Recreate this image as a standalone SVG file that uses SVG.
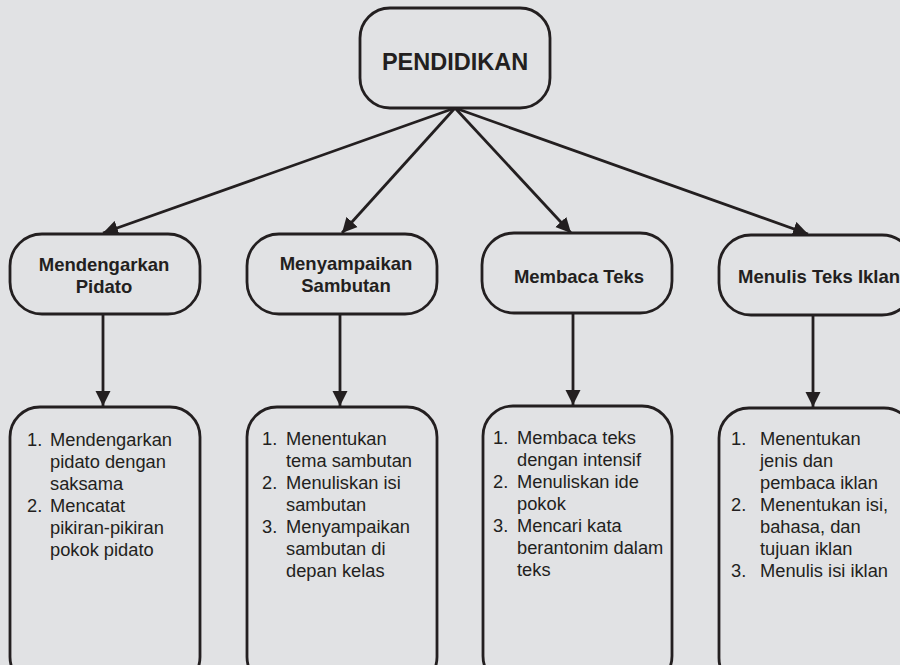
<svg xmlns="http://www.w3.org/2000/svg" width="900" height="665" viewBox="0 0 900 665">
<style>
.box{fill:#e1e2e4;stroke:#231f20;stroke-width:2.8}
.conn{stroke:#231f20;stroke-width:2.8;fill:none}
.t{font-family:"Liberation Sans",Arial,sans-serif;fill:#231f20}
.h{font-weight:bold;font-size:18.5px;text-anchor:middle}
.top{font-weight:bold;font-size:23.5px;text-anchor:middle}
.l{font-size:18.3px}
</style>
<defs>
<marker id="ah" markerUnits="userSpaceOnUse" markerWidth="16" markerHeight="16" refX="15" refY="8" orient="auto">
<path d="M0,0.5 L15,8 L0,15.5 Z" fill="#231f20"/>
</marker>
</defs>
<rect width="900" height="665" fill="#e1e2e4"/>
<g id="connectors">
<line class="conn" x1="455" y1="108" x2="103" y2="233" marker-end="url(#ah)"/>
<line class="conn" x1="455" y1="108" x2="342" y2="233" marker-end="url(#ah)"/>
<line class="conn" x1="455" y1="108" x2="571" y2="233" marker-end="url(#ah)"/>
<line class="conn" x1="455" y1="108" x2="808" y2="234" marker-end="url(#ah)"/>
<line class="conn" x1="103" y1="314" x2="103" y2="406" marker-end="url(#ah)"/>
<line class="conn" x1="340" y1="314" x2="340" y2="406" marker-end="url(#ah)"/>
<line class="conn" x1="573" y1="313" x2="573" y2="405" marker-end="url(#ah)"/>
<line class="conn" x1="813" y1="315" x2="813" y2="407" marker-end="url(#ah)"/>
</g>
<g id="pendidikan">
<rect class="box" x="360" y="8" width="190" height="100" rx="30"/>
<text class="t top" x="455" y="70">PENDIDIKAN</text>
</g>
<g id="mendengarkan">
<rect class="box" x="10" y="234" width="190" height="80" rx="32"/>
<text class="t h" x="104" y="271">Mendengarkan</text>
<text class="t h" x="104" y="293">Pidato</text>
</g>
<g id="menyampaikan">
<rect class="box" x="247" y="234" width="190" height="80" rx="32"/>
<text class="t h" x="346" y="270">Menyampaikan</text>
<text class="t h" x="346" y="292">Sambutan</text>
</g>
<g id="membaca">
<rect class="box" x="482" y="233" width="190" height="80" rx="32"/>
<text class="t h" x="579" y="283">Membaca Teks</text>
</g>
<g id="menulis">
<rect class="box" x="719" y="235" width="195" height="80" rx="32"/>
<text class="t h" x="738" y="283" style="text-anchor:start">Menulis Teks Iklan</text>
</g>
<g id="list1">
<rect class="box" x="10" y="407" width="190" height="280" rx="30"/>
<text class="t l" x="27" y="446">1.</text>
<text class="t l" x="50" y="446">Mendengarkan</text>
<text class="t l" x="50" y="468">pidato dengan</text>
<text class="t l" x="50" y="490">saksama</text>
<text class="t l" x="27" y="512">2.</text>
<text class="t l" x="50" y="512">Mencatat</text>
<text class="t l" x="50" y="534">pikiran-pikiran</text>
<text class="t l" x="50" y="556">pokok pidato</text>
</g>
<g id="list2">
<rect class="box" x="247" y="407" width="190" height="280" rx="30"/>
<text class="t l" x="262" y="445">1.</text>
<text class="t l" x="286" y="445">Menentukan</text>
<text class="t l" x="286" y="467">tema sambutan</text>
<text class="t l" x="262" y="489">2.</text>
<text class="t l" x="286" y="489">Menuliskan isi</text>
<text class="t l" x="286" y="511">sambutan</text>
<text class="t l" x="262" y="533">3.</text>
<text class="t l" x="286" y="533">Menyampaikan</text>
<text class="t l" x="286" y="555">sambutan di</text>
<text class="t l" x="286" y="577">depan kelas</text>
</g>
<g id="list3">
<rect class="box" x="483" y="406" width="189" height="280" rx="30"/>
<text class="t l" x="493" y="444">1.</text>
<text class="t l" x="517" y="444">Membaca teks</text>
<text class="t l" x="517" y="466">dengan intensif</text>
<text class="t l" x="493" y="488">2.</text>
<text class="t l" x="517" y="488">Menuliskan ide</text>
<text class="t l" x="517" y="510">pokok</text>
<text class="t l" x="493" y="532">3.</text>
<text class="t l" x="517" y="532">Mencari kata</text>
<text class="t l" x="517" y="554">berantonim dalam</text>
<text class="t l" x="517" y="576">teks</text>
</g>
<g id="list4">
<rect class="box" x="719" y="408" width="195" height="280" rx="30"/>
<text class="t l" x="731" y="445">1.</text>
<text class="t l" x="760" y="445">Menentukan</text>
<text class="t l" x="760" y="467">jenis dan</text>
<text class="t l" x="760" y="489">pembaca iklan</text>
<text class="t l" x="731" y="511">2.</text>
<text class="t l" x="760" y="511">Menentukan isi,</text>
<text class="t l" x="760" y="533">bahasa, dan</text>
<text class="t l" x="760" y="555">tujuan iklan</text>
<text class="t l" x="731" y="577">3.</text>
<text class="t l" x="760" y="577">Menulis isi iklan</text>
</g>
</svg>
